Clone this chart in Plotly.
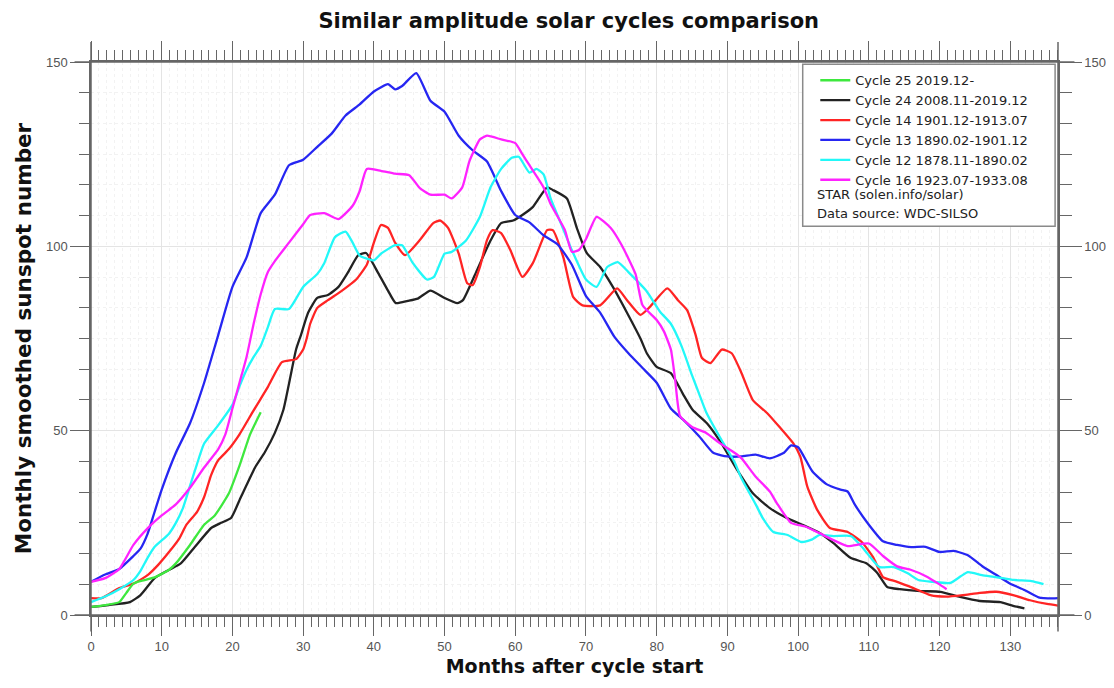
import plotly.graph_objects as go

# ---------------- data ----------------
c25_m = [0, 2, 4, 5, 6, 7, 9, 11, 12, 14, 16, 17.5, 19.5, 21, 22.5, 24]
c25_v = [2.2, 2.7, 3.5, 6, 8.5, 9.2, 10.2, 12.2, 14, 19, 24.5, 27, 33, 40.5, 49, 55]

c24_m = [0, 2.5, 5.5, 7, 9, 11, 12.7, 14.7, 17, 18.4, 19.8, 21.2, 23.2, 24.6, 26, 27.2,
         28.1, 29, 29.7, 30.7, 32, 33.5, 35, 36.3, 37.8, 38.9, 40.6, 42, 43.1, 44.8,
         46.2, 48, 50, 51.8, 52.6, 54.6, 56.4, 58, 59.7, 61, 62.5, 64.5, 65.3, 67.3,
         68.7, 70.1, 72, 73.8, 75.8, 77.7, 78.6, 80, 82, 83.7, 85.1, 87.1, 89, 91.4,
         93.6, 96, 98.4, 100.7, 103.1, 105, 107.4, 109.7, 111.2, 112.6, 114.4, 117.3,
         120.1, 122.9, 125.7, 128.6, 130.4, 132]
c24_v = [2.2, 2.7, 3.5, 5.4, 10, 12.2, 14, 18.5, 23.6, 25, 26.3, 32, 40, 44.2, 49.4, 55.6,
         63.7, 72, 76, 82, 86, 86.8, 89, 92.8, 97.6, 98.2, 92.8, 88, 84.6, 85.2,
         85.8, 88, 86, 84.6, 85.4, 93.6, 101.2, 106.3, 107, 108.5, 110.7, 116, 115.3, 113,
         105, 98.2, 94.4, 89, 82, 75, 71, 67.3, 65.6, 60, 55.6, 52, 47, 39.3,
         33, 29, 26.3, 24.4, 22.2, 19.5, 15.5, 14, 11.4, 7.6, 7, 6.5,
         6.3, 4.9, 3.8, 3.5, 2.5, 1.8]

c14_m = [0, 1.5, 4, 6, 8, 9.5, 11, 12.5, 13.5, 15, 16, 17, 18, 19.5, 21, 23, 25, 27, 29,
         30, 30.5, 31, 32, 33.5, 35.5, 37.5, 39, 40, 41, 42, 43, 44.4, 46.5, 48.4, 49.4,
         50.5, 52, 53.2, 54, 55, 56, 56.8, 58, 59.3, 61, 62.5, 64.5, 65.3, 66.8, 68.2,
         69.5, 72, 74.4, 75.8, 77.7, 79, 81.5, 83, 84.3, 85.5, 86.4, 87.6, 89.2, 90.6,
         92, 93.6, 95.6, 97.5, 99.3, 100.3, 101.3, 102.7, 104.5, 107, 109, 110.6, 112,
         114, 116.3, 118.7, 121, 123.3, 125.7, 128, 130.4, 132.8, 135.2, 137]
c14_v = [4.6, 4.6, 7.3, 8.5, 10.8, 13.6, 17, 20.8, 24.5, 28, 32, 38, 42, 45, 49, 55.5, 61.8,
         68.6, 69.4, 72, 75, 79, 83.3, 85.4, 88, 91, 95, 101, 105.8, 105, 101, 97.6, 101.7,
         106.3, 107, 105, 98, 90, 89.5, 94.4, 101.7, 104.4, 103.6, 99, 91.7, 95.5, 104.4,
         104.4, 97, 86.2, 84, 84, 88.6, 85.4, 81.4, 83.5, 88.6, 85.4, 82.7, 76, 69.7, 68.3,
         72, 71, 65.6, 58.3, 54.8, 50.7, 46.6, 43, 34.8, 28.5, 23.6, 22.5, 19.8, 15.7,
         10.3, 9, 7.3, 5.4, 5, 5.4, 6, 6.3, 5.4, 4, 3, 2.5]

c13_m = [0, 2, 4, 6, 7, 8, 9, 10, 12, 14, 16, 18, 20, 22, 24, 26, 28, 30, 32, 34, 36, 38,
         40, 42, 43, 44, 46, 48, 50, 52, 54, 56, 58, 60, 62, 64, 66, 68, 70, 72, 74, 76,
         78, 80, 82, 84, 86, 88, 90, 92, 94, 96, 98, 99, 100, 102, 104, 106, 107, 108,
         110, 112, 114, 116, 118, 120, 122, 124, 126, 128, 130, 132, 134, 136, 137]
c13_v = [9, 11, 12.5, 16, 18, 22, 28, 34, 44, 52, 63, 76, 89, 97, 109, 114, 122, 123.5,
         127, 130.5, 135.5, 138.5, 142, 144, 142.6, 143.5, 147, 139.5, 136.5, 130, 126,
         123, 115, 108.5, 106.5, 103, 100.5, 95, 86.5, 82, 75.5, 71, 67, 63, 56, 52.5,
         48.5, 44, 43, 43, 43.5, 42.5, 44, 46, 45.5, 39, 35.5, 34, 33.5, 30, 24.5, 20, 19,
         18.4, 18.5, 17.1, 17.4, 16.2, 13.3, 10.9, 8.5, 6.8, 4.8, 4.5, 4.6]

c12_m = [0, 2, 4, 6, 7, 8, 9, 11, 12, 13, 14, 15, 16, 18, 20, 21, 22, 23, 24, 25, 26, 28,
         30, 32, 33, 34.5, 36, 37, 38, 40, 41, 43, 44, 45.5, 47.5, 48.5, 50, 51, 53, 55,
         56.5, 58, 59.5, 60.5, 62, 63, 64, 65, 66.5, 68, 70, 71.5, 73, 74.5, 76, 78.5,
         80.5, 82, 83.5, 85, 86, 87, 89, 91, 92, 94, 95, 96.5, 98.5, 100.5, 102, 103, 105,
         107.5, 109, 110.5, 111.5, 113.5, 115.5, 117, 119, 121.5, 123, 124, 126, 128,
         130.5, 133, 134.7]
c12_v = [3.5, 5, 7, 9.5, 12, 15.5, 18.5, 22, 25, 29, 35, 41, 46.5, 51.5, 57, 62, 66.5, 70,
         73, 78, 83, 83, 89, 92.5, 95.5, 102.5, 104, 101, 97.5, 96.2, 98, 100.3, 100.3,
         95.5, 91, 91.7, 98, 98.5, 101.5, 108, 116, 121, 124, 124.3, 120, 121, 119.5, 113,
         106, 99, 91, 89, 94.4, 95.7, 93, 88, 82.2, 79, 73, 65, 60, 55, 48, 41.5, 37, 30,
         26.3, 22.5, 21.7, 19.8, 20.5, 21.7, 21.4, 21.4, 18.5, 15, 13, 13, 11.3, 9.5, 9,
         8.7, 10.5, 11.6, 10.8, 10.3, 9.5, 9.2, 8.4]

c16_m = [0, 2, 4, 6, 8, 10, 12, 14, 16, 18, 19, 20, 21, 22, 23, 24, 25, 26, 28, 30, 31,
         33, 35, 37, 38, 39, 41, 43, 45, 46.5, 48, 50, 51, 52.5, 53.5, 55, 56, 58, 60, 61,
         62, 64, 65, 67, 68, 69, 70, 71.5, 73.5, 75, 77, 78, 80, 81, 82, 82.6, 83.3, 85,
         87, 89, 91, 92, 94, 96, 97, 99, 101, 103, 105, 107, 110, 112, 114, 116, 118, 120,
         121]
c16_v = [9, 10, 12.5, 19, 23.5, 27, 30, 34.5, 40, 45, 49, 56, 63, 70, 79, 87, 93, 96, 101,
         106, 108.5, 109, 107.4, 111, 115, 121, 120.5, 119.7, 119.3, 115.8, 114, 114, 113,
         116, 123, 129, 130, 129, 128, 125, 122, 116, 111.5, 104.5, 98.5, 99, 102, 108,
         105, 100.5, 92.5, 84, 80, 77, 72, 64, 54, 51, 49.4, 46.5, 44, 42.5, 37.5, 33.5,
         30.3, 25, 24, 22.2, 20.3, 18.7, 19.4, 16, 13.2, 12.2, 10.6, 8.3, 7]

series = [
    ("Cycle 25 2019.12-", c25_m, c25_v, "#3ee83e"),
    ("Cycle 24 2008.11-2019.12", c24_m, c24_v, "#222222"),
    ("Cycle 14 1901.12-1913.07", c14_m, c14_v, "#ff2424"),
    ("Cycle 13 1890.02-1901.12", c13_m, c13_v, "#2626f2"),
    ("Cycle 12 1878.11-1890.02", c12_m, c12_v, "#22f8f8"),
    ("Cycle 16 1923.07-1933.08", c16_m, c16_v, "#ff22ff"),
]
extra_legend = ["STAR (solen.info/solar)", "Data source: WDC-SILSO"]

# ---------------- figure ----------------
FONT = "Arial, Liberation Sans, sans-serif"
BOLD = "DejaVu Sans, Arial, sans-serif"
LEG = "DejaVu Sans, Arial, sans-serif"
fig = go.Figure()
for i, (name, m, v, col) in enumerate(series):
    fig.add_trace(go.Scatter(
        x=m, y=v, name=name, mode="lines",
        line=dict(color=col, width=2.3, shape="spline", smoothing=0.5),
        yaxis="y2" if i == 0 else "y",
    ))

axcol = "#666666"
fig.update_layout(
    # page body has an 8px margin, so the figure is sized to fit the window
    width=1106, height=680,
    paper_bgcolor="white", plot_bgcolor="white",
    margin=dict(l=83, r=56, t=54, b=73, autoexpand=False),
    font=dict(family=FONT, size=13, color="#555555"),
    title=dict(text="<b>Similar amplitude solar cycles comparison</b>",
               x=0.507, xanchor="center", y=0.982, yanchor="middle",
               font=dict(size=21, color="#111111", family=BOLD)),
    xaxis=dict(
        range=[0, 136.75], dtick=10, tick0=0, automargin=False,
        showline=True, linecolor=axcol, linewidth=1.5, mirror="ticks",
        ticks="outside", ticklen=19, tickcolor=axcol, tickwidth=1,
        showgrid=True, gridcolor="#e4e4e4", gridwidth=1,
        zeroline=False,
        minor=dict(dtick=10 / 9, tick0=0, ticks="outside", ticklen=10,
                   tickcolor=axcol, showgrid=True, gridcolor="#f2f2f2",
                   griddash="dot"),
        title=dict(text="<b>Months after cycle start</b>", standoff=6,
                   font=dict(size=19, color="#111111", family=BOLD)),
        tickfont=dict(size=13, color="#555555"),
    ),
    yaxis=dict(
        range=[0, 150], dtick=50, tick0=0, automargin=False,
        showline=True, linecolor=axcol, linewidth=1.5,
        ticks="outside", ticklen=19, tickcolor=axcol,
        showgrid=True, gridcolor="#e4e4e4", zeroline=False,
        minor=dict(dtick=50 / 6, tick0=0, ticks="outside", ticklen=10,
                   tickcolor=axcol, showgrid=True, gridcolor="#f2f2f2",
                   griddash="dot"),
        title=dict(text="<b>Monthly smoothed sunspot number</b>", standoff=8,
                   font=dict(size=21.5, color="#111111", family=BOLD)),
        tickfont=dict(size=13, color="#555555"),
    ),
    yaxis2=dict(
        overlaying="y", side="right", range=[0, 150], dtick=50, tick0=0,
        automargin=False,
        showline=True, linecolor=axcol, linewidth=1.5,
        ticks="outside", ticklen=22, tickcolor=axcol,
        showgrid=False, zeroline=False,
        minor=dict(dtick=50 / 6, tick0=0, ticks="outside", ticklen=12,
                   tickcolor=axcol, showgrid=False),
        tickfont=dict(size=13, color="#555555"),
    ),
    showlegend=True,
    legend=dict(x=0.749, y=0.994, xanchor="left", yanchor="top",
                bgcolor="rgba(0,0,0,0)", borderwidth=0,
                font=dict(size=13, color="#222222", family=LEG),
                tracegroupgap=0, itemwidth=30),
)

# frame lines extending past the plot corners, as in the original chart
ext_x, ext_y = 0.017, 0.034
for xv in (0, 1):
    fig.add_shape(type="line", xref="paper", yref="paper", x0=xv, x1=xv,
                  y0=-ext_y + 0.004, y1=1 + ext_y + 0.002,
                  line=dict(color=axcol, width=1.5), layer="above")
for yv in (0, 1):
    fig.add_shape(type="line", xref="paper", yref="paper", y0=yv, y1=yv,
                  x0=-ext_x, x1=1 + ext_x,
                  line=dict(color=axcol, width=1.5), layer="above")

# legend box
fig.add_shape(type="rect", xref="paper", yref="paper",
              x0=0.736, x1=0.997, y0=0.703, y1=0.996,
              line=dict(color="#8a8a8a", width=1.5), fillcolor="white",
              layer="above")
for k, txt in enumerate(extra_legend):
    fig.add_annotation(xref="paper", yref="paper", x=0.7487, y=0.761 - k * 0.0342,
                       xanchor="left", yanchor="middle", showarrow=False,
                       text=txt, font=dict(size=13, color="#222222", family=LEG))

fig.write_html("out.html")
